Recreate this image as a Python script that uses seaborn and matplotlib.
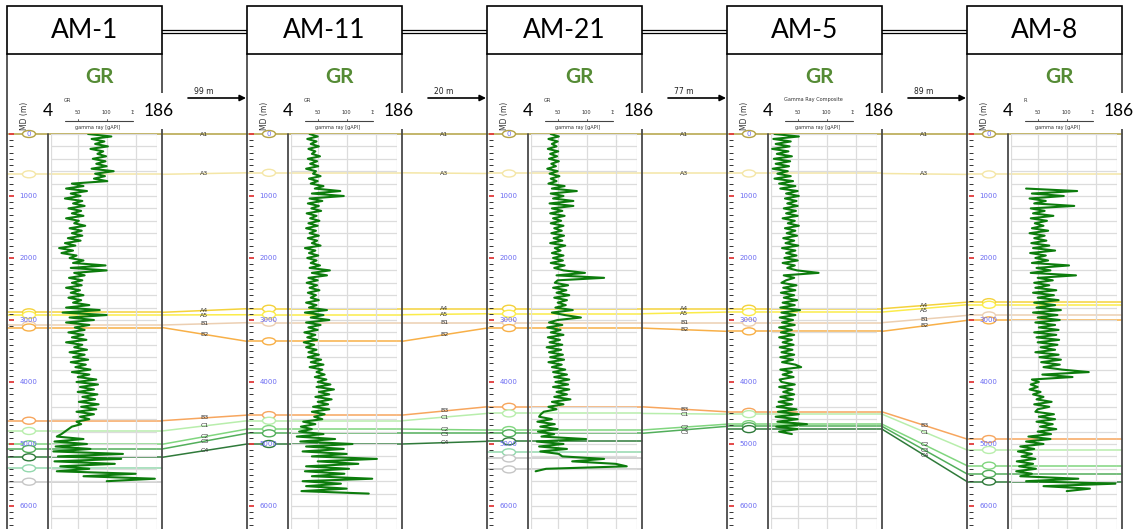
import numpy as np
import pandas as pd
import matplotlib
matplotlib.use("Agg")
import matplotlib.pyplot as plt
import matplotlib.transforms as mtrans
from matplotlib.patches import Rectangle, Ellipse
import seaborn as sns

sns.set_theme(style="white")
plt.rcParams["font.family"] = ["Lato", "DejaVu Sans"]

# ---------------------------------------------------------------- data
wells = ["AM-1", "AM-11", "AM-21", "AM-5", "AM-8"]
well_spacing = ["99 m", "20 m", "77 m", "89 m"]
curve_names = ["GR", "GR", "GR", "Gamma Ray Composite", "R"]
gr_range = (4, 186)
gr_grid = [4, 50, 100, 150, 186]
depth_labels = [0, 1000, 2000, 3000, 4000, 5000, 6000]
md_step = 40
md_start = [0, 0, 0, 0, 880]

gr_am1 = [68, 108, 74, 96, 80, 102, 72, 94, 84, 99,
          76, 98, 82, 100, 74, 112, 80, 97, 78, 101,
          40, 60, 30, 66, 38, 55, 28, 58, 42, 62,
          34, 56, 40, 60, 30, 52, 44, 63, 36, 57,
          40, 58, 33, 55, 28, 46, 18, 42, 22, 48,
          36, 60, 42, 98, 38, 100, 44, 62, 35, 58,
          40, 57, 30, 54, 38, 60, 34, 56, 42, 70,
          30, 88, 24, 100, 36, 78, 30, 70, 45, 62,
          34, 60, 40, 65, 30, 58, 44, 66, 36, 62,
          42, 68, 38, 64, 46, 72, 40, 70, 50, 82,
          48, 85, 54, 78, 50, 84, 58, 80, 52, 86,
          56, 82, 48, 78, 54, 70, 48, 56, 40, 34,
          28, 22, 14, 60, 10, 66, 12, 72, 8, 128,
          16, 125, 10, 114, 20, 70, 14, 150, 60, 183,
          100]

gr_am11 = [36, 50, 32, 48, 38, 52, 34, 46, 40, 54,
           33, 49, 37, 51, 30, 47, 42, 55, 35, 50,
           38, 60, 45, 89, 40, 95, 36, 58, 33, 52,
           39, 56, 31, 48, 37, 53, 34, 50, 30, 47,
           36, 52, 33, 49, 40, 55, 28, 46, 35, 51,
           32, 48, 38, 54, 36, 71, 40, 66, 34, 50,
           31, 49, 36, 53, 33, 47, 38, 52, 30, 48,
           35, 66, 28, 60, 38, 70, 30, 55, 34, 50,
           27, 46, 32, 49, 26, 44, 30, 48, 34, 52,
           33, 56, 38, 60, 36, 58, 48, 62, 45, 65,
           50, 72, 48, 78, 52, 70, 46, 74, 50, 68,
           42, 70, 40, 62, 44, 58, 25, 46, 21, 40,
           18, 60, 14, 80, 20, 110, 30, 95, 24, 100,
           40, 152, 50, 120, 30, 104, 28, 96, 40, 144,
           24, 90, 30, 100, 22, 138]

gr_am21 = [38, 52, 34, 50, 40, 48, 33, 51, 37, 49,
           35, 52, 39, 47, 32, 50, 36, 53, 38, 48,
           34, 62, 40, 83, 38, 60, 42, 77, 36, 77,
           40, 58, 37, 62, 42, 56, 38, 60, 44, 57,
           39, 61, 43, 58, 37, 63, 45, 55, 40, 60,
           42, 59, 38, 62, 44, 60, 97, 48, 130, 50,
           45, 68, 42, 65, 48, 70, 44, 66, 50, 64,
           46, 76, 40, 62, 90, 50, 35, 58, 32, 55,
           38, 60, 33, 54, 36, 58, 31, 56, 35, 59,
           37, 61, 34, 57, 40, 63, 42, 66, 44, 70,
           46, 68, 42, 70, 48, 66, 44, 72, 40, 60,
           34, 48, 26, 21, 18, 40, 15, 45, 20, 50,
           16, 44, 22, 99, 14, 60, 18, 66, 20, 52,
           58, 130, 75, 150, 169, 30, 12]

gr_am5 = [10, 52, 8, 38, 12, 36, 6, 34, 14, 40,
          9, 37, 12, 35, 7, 33, 15, 38, 10, 42,
          18, 46, 20, 50, 30, 52, 28, 48, 32, 50,
          26, 47, 30, 50, 24, 45, 33, 52, 28, 46,
          31, 49, 25, 44, 29, 51, 23, 46, 30, 48,
          27, 50, 24, 45, 32, 49, 86, 26, 44, 30,
          22, 48, 25, 46, 21, 44, 26, 49, 24, 45,
          20, 54, 22, 46, 19, 42, 23, 45, 18, 40,
          21, 44, 18, 40, 24, 43, 19, 41, 22, 44,
          20, 42, 23, 46, 56, 20, 40, 24, 43, 19,
          22, 45, 18, 41, 25, 44, 20, 42, 17, 40,
          14, 48, 16, 52, 12, 50, 15, 66, 13, 50,
          18, 40]

gr_am8 = [30, 118, 40, 95, 36, 64, 44, 113, 38, 62,
          42, 77, 38, 66, 45, 60, 40, 68, 36, 62,
          44, 65, 39, 70, 42, 80, 37, 64, 46, 68,
          40, 104, 48, 72, 38, 116, 50, 76, 44, 70,
          46, 82, 42, 78, 50, 86, 44, 80, 48, 90,
          42, 84, 50, 88, 46, 80, 52, 86, 44, 82,
          48, 87, 50, 84, 55, 80, 46, 86, 53, 90,
          56, 88, 60, 92, 138, 58, 110, 40, 52, 38,
          50, 36, 55, 42, 60, 48, 74, 44, 70, 50,
          46, 78, 52, 80, 48, 76, 54, 82, 50, 73,
          34, 72, 30, 60, 20, 44, 16, 40, 22, 46,
          14, 42, 18, 47, 13, 40, 20, 120, 30, 184,
          60, 140, 100]

gr_logs = [gr_am1, gr_am11, gr_am21, gr_am5, gr_am8]

# formation tops (MD, m) per well
top_names = ["A1", "A3", "A4", "A5", "B1", "B2", "B3", "C1", "C2", "C3", "C4"]
top_colors = ["#b3a243", "#f4e6a6", "#f4d23c", "#fbec4a", "#eccfb2", "#f8b048",
              "#f7a65e", "#b8eeac", "#80d67f", "#52ae5b", "#2f7a3a"]
tops_am1 = [0, 650, 2876, 2919, 3081, 3121, 4624, 4790, 5005, 5081, 5215]
tops_am11 = [0, 626, 2818, 2915, 3043, 3344, 4534, 4625, 4759, 4828, 5000]
tops_am21 = [0, 637, 2818, 2899, 3043, 3130, 4400, 4507, 4775, 4828, 4957]
tops_am5 = [0, 637, 2818, 2872, 3043, 3183, 4481, 4518, 4680, 4715, 4760]
tops_am8 = [0, 652, 2712, 2754, 2926, 3006, 4920, 5096, 5349, 5482, 5606]
well_tops = [tops_am1, tops_am11, tops_am21, tops_am5, tops_am8]

# tops correlated across each gap between neighbouring wells
gap_links = [top_names, top_names, top_names[:-1], top_names]

# unnamed markers shown only inside a well: (well index, MD, colour)
extra_markers = [(0, 5392, "#93d8ad"), (0, 5608, "#c6c6c6"),
                 (2, 5134, "#93d8ad"), (2, 5233, "#c6c6c6"), (2, 5410, "#c6c6c6")]

# ---------------------------------------------------------------- layout
W, H = 1144, 529
Y0 = 134                 # pixel row of MD = 0
PX_PER_M = 0.062
D_MAX = (H - Y0) / PX_PER_M
X0, DX, PW = 7, 240, 155  # first panel left, panel pitch, panel width
SEP, TL, TR = 41, 44, 149.6
HEAD_TOP, HEAD_BOT = 6, 54
log_color = "#0c7c0c"
LABEL_GAP_M = 85          # minimum spacing of top names inside a gap

fig = plt.figure(figsize=(W / 100, H / 100), dpi=100)
fig.patch.set_facecolor("white")

log_h = (H - Y0) / H
ax_bg = fig.add_axes([0, 0, 1, log_h], zorder=1)
ax_bg.set_xlim(0, W)
ax_bg.set_ylim(D_MAX, 0)
ax_bg.axis("off")
ax_bg.patch.set_alpha(0)

ax_px = fig.add_axes([0, 0, 1, 1], zorder=3)
ax_px.set_xlim(0, W)
ax_px.set_ylim(H, 0)
ax_px.axis("off")
ax_px.patch.set_alpha(0)

lefts = [X0 + DX * i for i in range(len(wells))]


def gr_to_px(pl, g):
    return pl + TL + (g - gr_range[0]) * (TR - TL) / (gr_range[1] - gr_range[0])


for i, (name, pl) in enumerate(zip(wells, lefts)):
    # ---- GR track
    ax = fig.add_axes([(pl + TL) / W, 0, (TR - TL) / W, log_h], zorder=2)
    vals = gr_logs[i]
    md = md_start[i] + md_step * np.arange(len(vals))
    df = pd.DataFrame({"md": md, "gr": vals})
    sns.lineplot(data=df, x="gr", y="md", orient="y", sort=False, estimator=None,
                 color=log_color, linewidth=1.5, ax=ax)
    ax.set_xlim(*gr_range)
    ax.set_ylim(D_MAX, 0)
    ax.set_xticks(gr_grid)
    ax.set_yticks(np.arange(0, D_MAX, 200))
    ax.grid(True, color="#dcdcdc", linewidth=0.9)
    ax.set_axisbelow(True)
    ax.tick_params(length=0, labelbottom=False, labelleft=False)
    ax.set_xlabel("")
    ax.set_ylabel("")
    for s in ax.spines.values():
        s.set_visible(False)
    ax.patch.set_alpha(0)

    # ---- depth column
    axd = fig.add_axes([(pl + 2) / W, 0, (SEP - 2) / W, log_h], zorder=2)
    axd.set_ylim(D_MAX, 0)
    axd.set_xlim(0, 1)
    axd.set_yticks(depth_labels)
    axd.set_yticks(np.arange(0, D_MAX, 100), minor=True)
    axd.tick_params(axis="y", which="major", direction="in", length=3.5, width=1.3,
                    color="#e23a3a", left=True, labelleft=False)
    axd.tick_params(axis="y", which="minor", direction="in", length=3, width=0.7,
                    color="#333333", left=True)
    axd.tick_params(axis="x", bottom=False, labelbottom=False)
    for s in axd.spines.values():
        s.set_visible(False)
    axd.patch.set_alpha(0)
    tr = mtrans.blended_transform_factory(axd.transAxes, axd.transData)
    for d in depth_labels:
        axd.text(0.5, d, str(d), transform=tr, ha="center", va="center",
                 fontsize=5, color="#6b6bf2", family="DejaVu Sans", zorder=5)

    # ---- tops inside the well
    for tname, d, c in zip(top_names, well_tops[i], top_colors):
        ax_bg.plot([pl, pl + PW], [d, d], color=c, lw=1.1, clip_on=False, zorder=1)
        ax_bg.add_patch(Ellipse((pl + 22, d), 13, 7 / PX_PER_M, facecolor="white",
                                edgecolor=c, lw=1.0, clip_on=False, zorder=3))

    # ---- header
    ax_px.add_patch(Rectangle((pl, HEAD_TOP), PW, HEAD_BOT - HEAD_TOP,
                              facecolor="white", edgecolor="black", lw=1.2, zorder=2))
    ax_px.text(pl + PW / 2, (HEAD_TOP + HEAD_BOT) / 2 + 1, name, ha="center", va="center",
               fontsize=19, color="black", zorder=3)
    ax_px.plot([pl, pl], [HEAD_BOT, H], color="#4a4a4a", lw=1.3, zorder=1)
    ax_px.plot([pl + PW, pl + PW], [HEAD_BOT, H], color="#4a4a4a", lw=1.3, zorder=1)
    ax_px.plot([pl + SEP, pl + SEP], [Y0, H], color="#4a4a4a", lw=1.3, zorder=1)
    ax_px.text(pl + 92, 77, "GR", ha="center", va="center", fontsize=15,
               fontweight="bold", color="#558b35", zorder=3)
    ax_px.text(pl + 18, 116, "MD (m)", rotation=90, ha="center", va="center",
               fontsize=5.5, color="#333333", family="DejaVu Sans", zorder=3)
    ax_px.text(gr_to_px(pl, 26), 100, curve_names[i], ha="left", va="center",
               fontsize=3.6, color="#333333", family="DejaVu Sans", zorder=2)
    ax_px.plot([gr_to_px(pl, 28), gr_to_px(pl, 145)], [121, 121], color="#444444",
               lw=0.8, zorder=2)
    for g in gr_grid[1:4]:
        ax_px.plot([gr_to_px(pl, g)] * 2, [119, 121], color="#444444", lw=0.6, zorder=2)
        ax_px.text(gr_to_px(pl, g), 113, str(g), ha="center", va="center",
                   fontsize=3.6, color="#333333", family="DejaVu Sans", zorder=2)
    ax_px.text(pl + 91, 127.5, "gamma ray [gAPI]", ha="center", va="center",
               fontsize=3.6, color="#333333", family="DejaVu Sans", zorder=2)
    ax_px.text(pl + SEP, 111, str(gr_range[0]), ha="center", va="center", fontsize=12.5,
               color="black", zorder=4,
               bbox=dict(boxstyle="square,pad=0.3", fc="white", ec="none"))
    ax_px.text(pl + 152, 111, str(gr_range[1]), ha="center", va="center", fontsize=12.5,
               color="black", zorder=4,
               bbox=dict(boxstyle="square,pad=0.55", fc="white", ec="none"))

# unnamed markers
for wi, d, c in extra_markers:
    pl = lefts[wi]
    ax_bg.plot([pl, pl + PW], [d, d], color=c, lw=1.1, zorder=1)
    ax_bg.add_patch(Ellipse((pl + 22, d), 13, 7 / PX_PER_M, facecolor="white",
                            edgecolor=c, lw=1.0, zorder=3))

# correlation between neighbouring wells
for g, links in enumerate(gap_links):
    x_a = lefts[g] + PW
    x_b = lefts[g + 1]
    xm = (x_a + x_b) / 2
    last_y = -1e9
    for tname in links:
        k = top_names.index(tname)
        d_a, d_b = well_tops[g][k], well_tops[g + 1][k]
        ax_bg.plot([x_a, x_b], [d_a, d_b], color=top_colors[k], lw=1.1,
                   clip_on=False, zorder=1)
        y_lab = max((d_a + d_b) / 2, last_y + LABEL_GAP_M)
        last_y = y_lab
        ax_bg.text(xm, y_lab, tname, ha="center", va="center", fontsize=4.5,
                   color="#333333", family="DejaVu Sans", zorder=4)
    # header link and spacing arrow
    for yy in (29.5, 33):
        ax_px.plot([x_a, x_b], [yy, yy], color="black", lw=0.9, zorder=1)
    ax_px.annotate("", xy=(x_b - 1, 98), xytext=(x_a + 26, 98),
                   arrowprops=dict(arrowstyle="-|>", color="black", lw=1.2,
                                   mutation_scale=9, shrinkA=0, shrinkB=0))
    ax_px.text(x_a + 42, 91, well_spacing[g], ha="center", va="center", fontsize=5.5,
               color="#222222", family="DejaVu Sans")

fig.savefig("out.png", dpi=100, facecolor="white")
